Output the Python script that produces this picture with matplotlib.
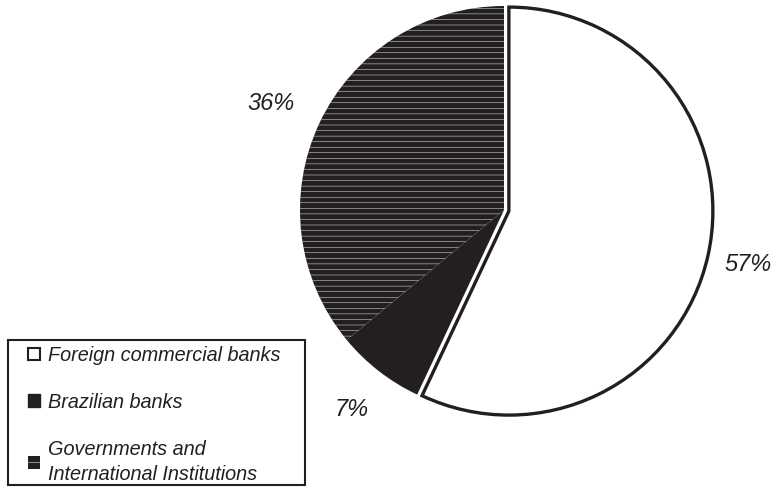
import matplotlib
matplotlib.use("Agg")
import matplotlib.pyplot as plt
from matplotlib.patches import Patch, Rectangle
import numpy as np

categories = ["Foreign commercial banks", "Brazilian banks",
              "Governments and\nInternational Institutions"]
shares = [57, 7, 36]
pct_labels = ["57%", "7%", "36%"]

INK = "#231f20"
plt.rcParams["hatch.linewidth"] = 0.35
plt.rcParams["font.family"] = ["Liberation Sans", "DejaVu Sans"]

fig = plt.figure(figsize=(7.76, 4.88), dpi=100)
ax = fig.add_axes([0, 0, 1, 1])

R = 204
cx, cy = 504, 278
wedges, texts = ax.pie(
    shares, startangle=90, counterclock=False,
    explode=[5, 0, 0], center=(cx, cy), radius=R,
    colors=["white", INK, INK], labels=pct_labels, labeldistance=1.22,
    textprops=dict(fontsize=17, style="italic", color=INK),
)
ax.set_xlim(0, 776)
ax.set_ylim(0, 488)
ax.set_aspect("auto")
ax.axis("off")

wedges[0].set_edgecolor(INK)
wedges[0].set_linewidth(2.4)
wedges[1].set_edgecolor(INK)
wedges[1].set_linewidth(0)
wedges[2].set_edgecolor("#e8e8e8")
wedges[2].set_linewidth(0)
wedges[2].set_hatch("---")

dists = [1.20, 1.22, 1.26]
offs = [0, -3, -3]
for w, t, d, o in zip(wedges, texts, dists, offs):
    mid = np.deg2rad((w.theta1 + w.theta2) / 2)
    x0, y0 = w.center
    t.set_position((x0 + d * R * np.cos(mid), y0 + d * R * np.sin(mid) + o))
    t.set_ha("center")
    t.set_va("center")

# legend frame
fig.add_artist(Rectangle((8 / 776, 1 - 485 / 488), 297 / 776, 145 / 488,
                         transform=fig.transFigure, facecolor="white",
                         edgecolor=INK, linewidth=1.5))

handles = [
    Patch(facecolor="white", edgecolor=INK, linewidth=1.5),
    Patch(facecolor=INK, edgecolor=INK, linewidth=1.0),
    Patch(facecolor=INK, edgecolor="white", linewidth=0, hatch="--"),
]
leg = fig.legend(handles, categories, loc="upper left",
                 bbox_to_anchor=(28 / 776, 1 - 346 / 488),
                 bbox_transform=fig.transFigure, borderaxespad=0,
                 prop=dict(size=14.3, style="italic"),
                 handlelength=0.6, handleheight=0.6, handletextpad=0.42,
                 labelspacing=1.4, borderpad=0.0, frameon=False,
                 labelcolor=INK)
leg.get_texts()[2].set_linespacing(1.45)

fig.savefig("out.png", dpi=100)
